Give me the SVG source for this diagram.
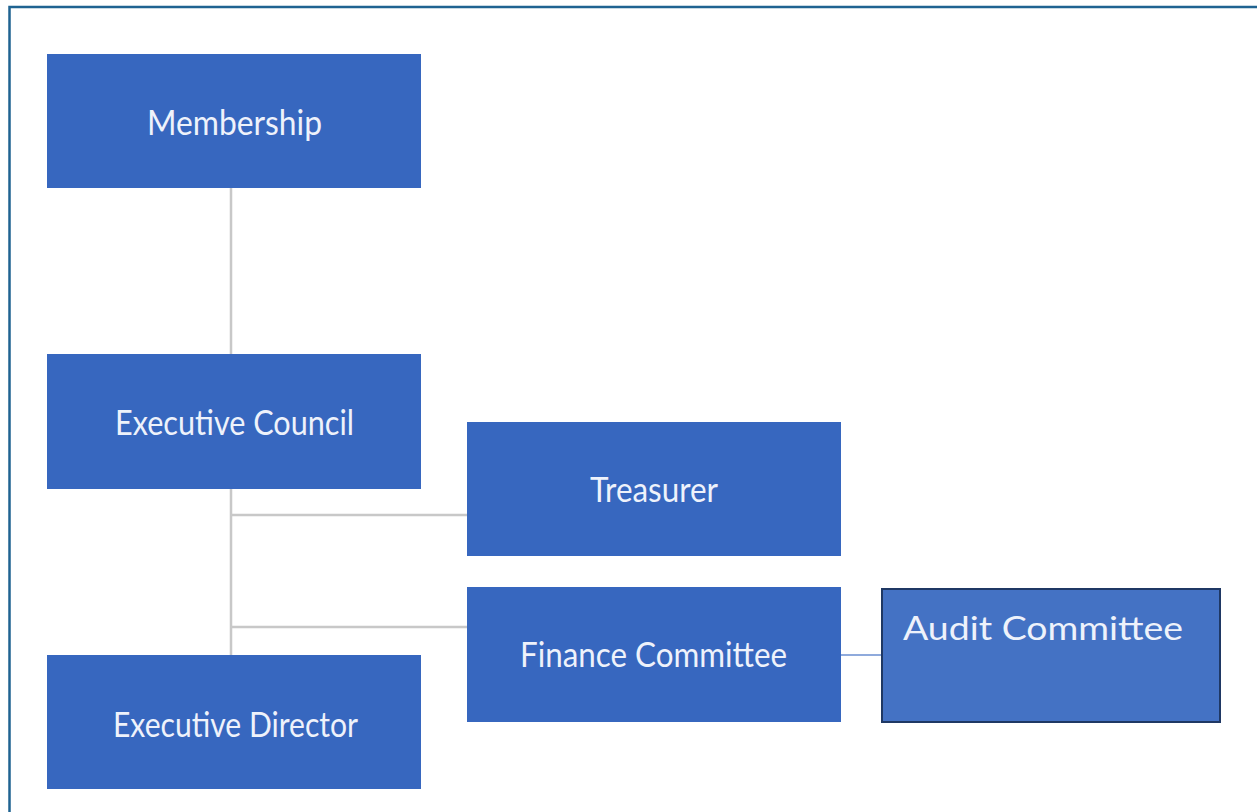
<svg xmlns="http://www.w3.org/2000/svg" width="1257" height="812" viewBox="0 0 1257 812">
<style>
.box{fill:#3767bf}
.lbl{font-family:Lato,"Open Sans","Liberation Sans",sans-serif;font-size:35px;fill:#eef2fb}
.conn{stroke:#c8c8c8;stroke-width:2.5;fill:none}
</style>
<rect x="0" y="0" width="1257" height="812" fill="#ffffff"/>
<path d="M9.5 812 V7 H1257" fill="none" stroke="#1f6391" stroke-width="2.5"/>
<g id="connectors">
<path class="conn" d="M231 188 V655"/>
<path class="conn" d="M231 515 H467"/>
<path class="conn" d="M231 627 H467"/>
<path d="M840 655 H882" stroke="#8faadc" stroke-width="2" fill="none"/>
</g>
<g id="membership">
<rect class="box" x="47" y="54" width="374" height="134"/>
<text class="lbl" x="147" y="135" textLength="175" lengthAdjust="spacingAndGlyphs">Membership</text>
</g>
<g id="executive-council">
<rect class="box" x="47" y="354" width="374" height="135"/>
<text class="lbl" x="115" y="435" textLength="239" lengthAdjust="spacingAndGlyphs">Executive Council</text>
</g>
<g id="treasurer">
<rect class="box" x="467" y="422" width="374" height="134"/>
<text class="lbl" x="590" y="502" textLength="128" lengthAdjust="spacingAndGlyphs">Treasurer</text>
</g>
<g id="finance-committee">
<rect class="box" x="467" y="587" width="374" height="135"/>
<text class="lbl" x="520" y="667" textLength="267" lengthAdjust="spacingAndGlyphs">Finance Committee</text>
</g>
<g id="executive-director">
<rect class="box" x="47" y="655" width="374" height="134"/>
<text class="lbl" x="113" y="737" textLength="245" lengthAdjust="spacingAndGlyphs">Executive Director</text>
</g>
<g id="audit-committee">
<rect x="882" y="589" width="338" height="133" fill="#4472c4" stroke="#1f3864" stroke-width="2"/>
<text class="lbl" x="903" y="640" textLength="280" lengthAdjust="spacingAndGlyphs" style="font-size:33px">Audit Committee</text>
</g>
</svg>
